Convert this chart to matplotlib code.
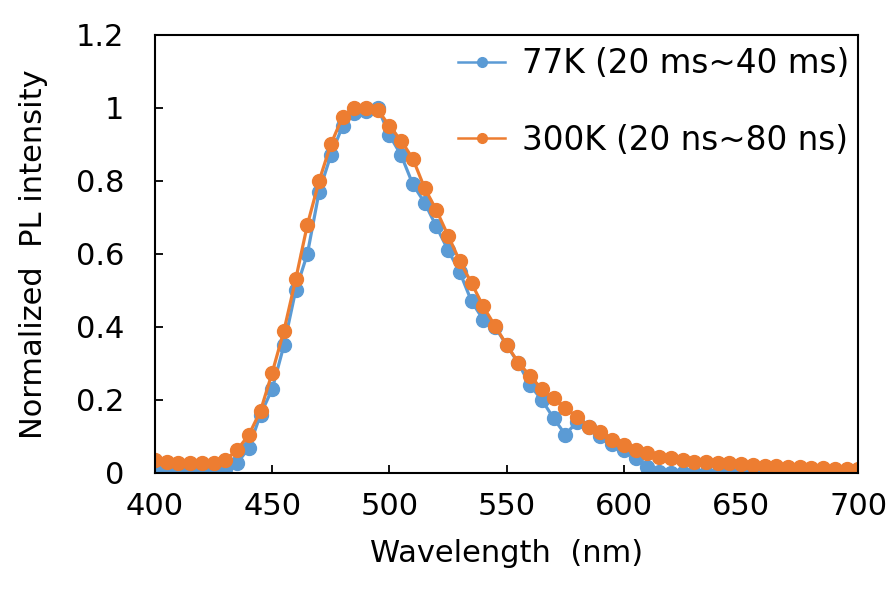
import numpy as np
import matplotlib
matplotlib.use('Agg')
import matplotlib.pyplot as plt

plt.rcParams['font.family'] = ['DejaVu Sans']

# wavelength grid (nm), one point every 5 nm
wavelength = np.arange(400, 701, 5)

# 77K (20 ms~40 ms)
pl_77k = [0.005, 0.005, 0.005, 0.005, 0.005, 0.005, 0.01, 0.027, 0.068, 0.16,
          0.23, 0.35, 0.50, 0.60, 0.77, 0.87, 0.95, 0.985, 0.99, 1.0,
          0.925, 0.87, 0.79, 0.74, 0.675, 0.61, 0.55, 0.47, 0.42, 0.40,
          0.35, 0.30, 0.24, 0.20, 0.15, 0.105, 0.14, 0.125, 0.10, 0.08,
          0.062, 0.04, 0.015, 0.003, 0.0, 0.0, 0.0, 0.0, 0.0, 0.0,
          0.0, 0.0, 0.0, 0.0, 0.0, 0.0, 0.0, 0.0, 0.0, 0.0, 0.0]

# 300K (20 ns~80 ns)
pl_300k = [0.035, 0.03, 0.028, 0.027, 0.027, 0.028, 0.035, 0.063, 0.104, 0.17,
           0.275, 0.39, 0.53, 0.68, 0.80, 0.90, 0.975, 1.0, 1.0, 0.995,
           0.95, 0.91, 0.86, 0.78, 0.72, 0.65, 0.58, 0.52, 0.456, 0.403,
           0.351, 0.302, 0.266, 0.229, 0.205, 0.177, 0.154, 0.127, 0.113, 0.09,
           0.077, 0.063, 0.054, 0.045, 0.04, 0.036, 0.031, 0.03, 0.028, 0.026,
           0.024, 0.022, 0.02, 0.018, 0.017, 0.015, 0.014, 0.013, 0.012, 0.011, 0.01]

fig = plt.figure(figsize=(8.96, 5.89), dpi=100)
ax = fig.add_axes([0.173, 0.197, 0.785, 0.744])

ax.plot(wavelength, pl_77k, '-o', color='#5B9BD5', lw=2.3, ms=10,
        label='77K (20 ms~40 ms)')
ax.plot(wavelength, pl_300k, '-o', color='#ED7D31', lw=2.3, ms=10,
        label='300K (20 ns~80 ns)')

ax.set_xlim(400, 700)
ax.set_ylim(0, 1.2)
ax.set_xticks(np.arange(400, 701, 50))
ax.set_yticks([0, 0.2, 0.4, 0.6, 0.8, 1.0, 1.2])
ax.set_yticklabels(['0', '0.2', '0.4', '0.6', '0.8', '1', '1.2'])
ax.tick_params(direction='in', length=6, width=1.3, labelsize=22)
ax.tick_params(axis='x', pad=14)
ax.tick_params(axis='y', pad=22)
for s in ax.spines.values():
    s.set_linewidth(1.5)
    s.set_clip_on(False)

ax.set_xlabel('Wavelength  (nm)', fontsize=22, labelpad=13)
ax.set_ylabel('Normalized  PL intensity', fontsize=22, labelpad=20)

leg = ax.legend(loc='upper left', bbox_to_anchor=(0.431, 0.971), frameon=False,
                fontsize=23.5, handlelength=1.45, handletextpad=0.5,
                labelspacing=1.33, borderpad=0, borderaxespad=0)
for h in leg.legend_handles:
    h.set_markersize(7)
    h.set_linewidth(1.8)

fig.savefig('out.png', dpi=100)
